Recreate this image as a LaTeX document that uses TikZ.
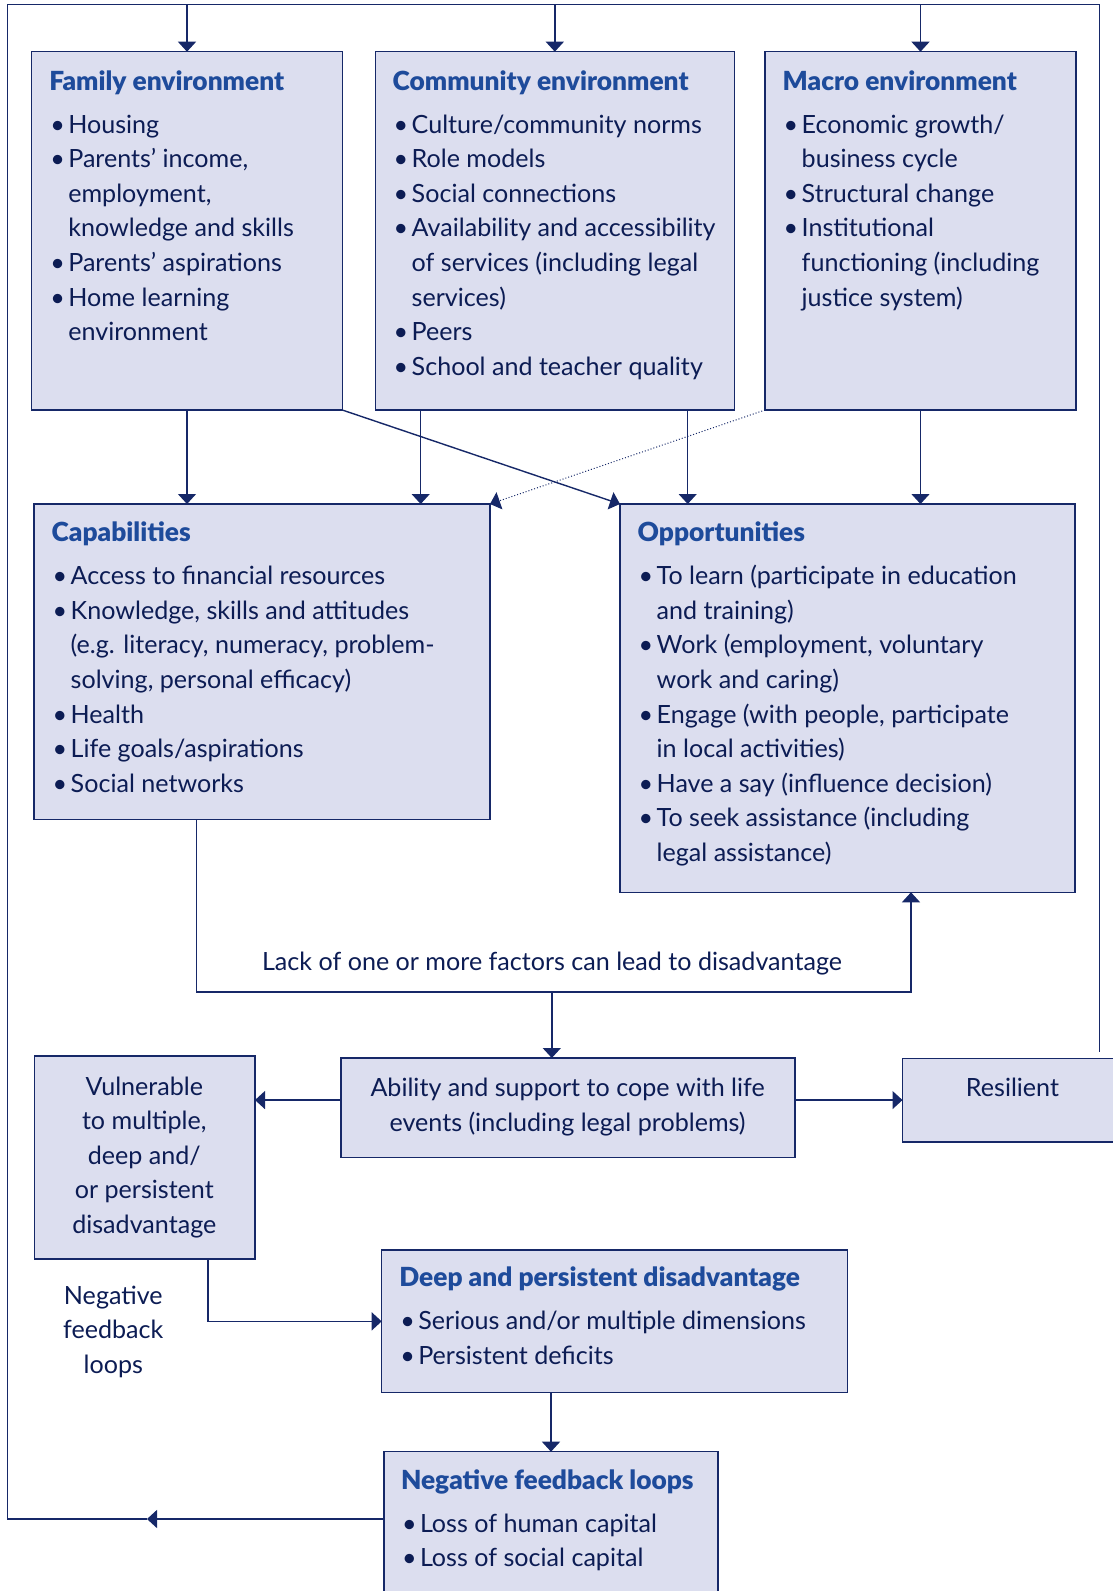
\documentclass[tikz,border=0pt]{standalone}
\usepackage{fontspec}
\setmainfont{Lato}
\newfontfamily\titlefont{Lato Black}
\usetikzlibrary{arrows.meta,calc}
\definecolor{boxfill}{RGB}{220,222,239}
\definecolor{navy}{RGB}{22,40,104}
\definecolor{txtc}{RGB}{12,28,84}
\definecolor{ttlc}{RGB}{30,75,155}
\newcommand\boxtitle[1]{{\titlefont\fontsize{26.3}{34.6}\selectfont\color{ttlc}#1}}
\newcommand\bul{\makebox[19pt][l]{\hspace{1pt}•}}
\newcommand\contind{\hspace*{19pt}}
\tikzset{
  panel/.style={draw=navy, line width=1.4pt, fill=boxfill, inner sep=0pt, outer sep=0pt, anchor=north west},
  boxtext/.style={inner sep=0pt, outer sep=0pt, text=txtc, font=\fontsize{25.1}{34.6}\selectfont},
  link/.style={draw=navy, line width=1.4pt},
  arr/.style={link, -{Triangle[width=18pt,length=10pt]}},
  dotarr/.style={draw=navy, line width=1pt, dotted, -{Triangle[width=18pt,length=10pt]}},
}
\begin{document}
\begin{tikzpicture}[x=1pt,y=-1pt]
\useasboundingbox (0,0) rectangle (1112,1591);
% panels
\node[panel, minimum width=310.6pt, minimum height=358.3pt] (fam) at (31.7,51.7) {};
\node[panel, minimum width=359pt, minimum height=358.3pt] (com) at (375.3,51.7) {};
\node[panel, minimum width=311pt, minimum height=358.3pt] (mac) at (765,51.7) {};
\node[panel, minimum width=456pt, minimum height=315.3pt] (cap) at (34,504) {};
\node[panel, minimum width=455pt, minimum height=388.3pt] (opp) at (620,504) {};
\node[panel, minimum width=454pt, minimum height=99.7pt] (abl) at (340.8,1058) {};
\node[panel, minimum width=220.7pt, minimum height=203pt] (vul) at (34.3,1056) {};
\node[panel, minimum width=230pt, minimum height=83.3pt] (res) at (902.5,1058.7) {};
\node[panel, minimum width=465.6pt, minimum height=142.7pt] (deep) at (381.7,1250) {};
\node[panel, minimum width=334pt, minimum height=170pt] (nfl) at (384,1451.7) {};

% texts
\node[boxtext, anchor=base west] (famt) at (49.3,90) {\begin{tabular}[t]{@{}l@{}}
\boxtitle{Family environment}\\[8.4pt]
\bul Housing\\
\bul Parents’ income,\\
\contind employment,\\
\contind knowledge and skills\\
\bul Parents’ aspirations\\
\bul Home learning\\
\contind environment
\end{tabular}};
\node[boxtext, anchor=base west] (comt) at (392.7,90) {\begin{tabular}[t]{@{}l@{}}
\boxtitle{Community environment}\\[8.4pt]
\bul Culture/community norms\\
\bul Role models\\
\bul Social connections\\
\bul Availability and accessibility\\
\contind of services (including legal\\
\contind services)\\
\bul Peers\\
\bul School and teacher quality
\end{tabular}};
\node[boxtext, anchor=base west] (mact) at (782.7,90) {\begin{tabular}[t]{@{}l@{}}
\boxtitle{Macro environment}\\[8.4pt]
\bul Economic growth/\\
\contind business cycle\\
\bul Structural change\\
\bul Institutional\\
\contind functioning (including\\
\contind justice system)
\end{tabular}};
\node[boxtext, anchor=base west] (capt) at (51.7,541.7) {\begin{tabular}[t]{@{}l@{}}
\boxtitle{Capabilities}\\[8.4pt]
\bul Access to financial resources\\
\bul Knowledge, skills and attitudes\\
\contind (e.g. literacy, numeracy, problem-\\
\contind solving, personal efficacy)\\
\bul Health\\
\bul Life goals/aspirations\\
\bul Social networks
\end{tabular}};
\node[boxtext, anchor=base west] (oppt) at (637.7,541.7) {\begin{tabular}[t]{@{}l@{}}
\boxtitle{Opportunities}\\[8.4pt]
\bul To learn (participate in education\\
\contind and training)\\
\bul Work (employment, voluntary\\
\contind work and caring)\\
\bul Engage (with people, participate\\
\contind in local activities)\\
\bul Have a say (influence decision)\\
\bul To seek assistance (including\\
\contind legal assistance)
\end{tabular}};
\node[boxtext, anchor=base] (lack) at (552,970.7) {Lack of one or more factors can lead to disadvantage};
\node[boxtext, anchor=base] (ablt) at (567.6,1096.7) {\begin{tabular}[t]{@{}c@{}}
Ability and support to cope with life\\
events (including legal problems)
\end{tabular}};
\node[boxtext, anchor=base] (vult) at (144.3,1095) {\begin{tabular}[t]{@{}c@{}}
Vulnerable\\
to multiple,\\
deep and/\\
or persistent\\
disadvantage
\end{tabular}};
\node[boxtext, anchor=base] (rest) at (1012.5,1096.7) {Resilient};
\node[boxtext, anchor=base] (nflabel) at (113.3,1304) {\begin{tabular}[t]{@{}c@{}}
Negative\\
feedback\\
loops
\end{tabular}};
\node[boxtext, anchor=base west] (deept) at (399.3,1286.7) {\begin{tabular}[t]{@{}l@{}}
\boxtitle{Deep and persistent disadvantage}\\[8.4pt]
\bul Serious and/or multiple dimensions\\
\bul Persistent deficits
\end{tabular}};
\node[boxtext, anchor=base west] (nflt) at (401,1489.3) {\begin{tabular}[t]{@{}l@{}}
\boxtitle{Negative feedback loops}\\[8.4pt]
\bul Loss of human capital\\
\bul Loss of social capital
\end{tabular}};

% coordinates
\coordinate (lb) at (147,1519);
\coordinate (bl) at (7.3,1519);
\coordinate (tl) at (7.3,4.7);
\coordinate (tr) at (1099.7,4.7);
\coordinate (re) at (1099.7,1052);
\coordinate (hy) at (0,992);
\coordinate (c1) at ([xshift=45.4pt]com.south west);
\coordinate (c2) at ([xshift=-46.6pt]com.south east);
\coordinate (capout) at ([xshift=162.7pt]cap.south west);
\coordinate (oppin) at ([xshift=-164pt]opp.south east);
\coordinate (ain) at ([xshift=-16pt]abl.north);
\coordinate (aw) at ([yshift=7.8pt]abl.west);
\coordinate (ae) at ([yshift=7.8pt]abl.east);
\coordinate (vout) at ([xshift=173.7pt]vul.south west);
\coordinate (dout) at ([xshift=-63.5pt]deep.south);

% outer feedback loop
\draw[arr] (nfl.west |- lb) -- (lb);
\draw[link] (lb) -- (bl) -- (tl) -- (tr) -- (re);
\draw[arr] (fam.north |- tl) -- (fam.north);
\draw[arr] (com.north |- tl) -- (com.north);
\draw[arr] (mac.north |- tl) -- (mac.north);

% environments to capabilities / opportunities
\draw[arr] (fam.south) -- (fam.south |- cap.north);
\draw[arr] (fam.south east) -- (opp.north west);
\draw[arr] (c1) -- (c1 |- cap.north);
\draw[arr] (c2) -- (c2 |- opp.north);
\draw[dotarr] (mac.south west) -- (cap.north east);
\draw[arr] (mac.south) -- (mac.south |- opp.north);

% lack of factors
\draw[arr] (capout) -- (capout |- hy) -- (oppin |- hy) -- (oppin);
\draw[arr] (ain |- hy) -- (ain);

% ability outcomes
\draw[arr] (aw) -- (aw -| vul.east);
\draw[arr] (ae) -- (ae -| res.west);
\draw[arr] (vout) |- (deep.west);
\draw[arr] (dout) -- (dout |- nfl.north);
\end{tikzpicture}
\end{document}
